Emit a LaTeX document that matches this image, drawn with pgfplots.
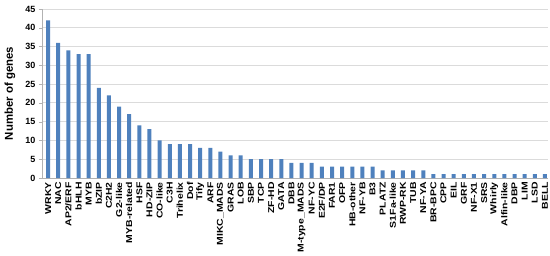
\documentclass[border=0pt]{standalone}
\usepackage{graphicx}
\usepackage{pgfplots}
\pgfplotsset{compat=1.18}
\usepackage{fontspec}
\setmainfont{Liberation Sans}
\definecolor{barblue}{HTML}{4F81BD}
\newcommand{\SL}[1]{\scalebox{1.23}[1]{#1}}
\begin{document}
\begin{tikzpicture}
\useasboundingbox (-42pt,-77pt) rectangle (508pt,178pt);
\begin{axis}[
  at={(0,0)}, anchor=south west,
  scale only axis, width=506pt, height=169pt,
  xmin=-0.6, xmax=49.3, ymin=0, ymax=45,
  ytick={0,5,...,45},
  xtick={0,...,49},
  xticklabels={\SL{WRKY},\SL{NAC},\SL{AP2/ERF},\SL{bHLH},\SL{MYB},\SL{bZIP},\SL{C2H2},\SL{G2-like},\SL{MYB-related},\SL{HSF},\SL{HD-ZIP},\SL{CO-like},\SL{C3H},\SL{Trihelix},\SL{Dof},\SL{Tify},\SL{ARF},\SL{MIKC\_MADS},\SL{GRAS},\SL{LOB},\SL{SBP},\SL{TCP},\SL{ZF-HD},\SL{GATA},\SL{DBB},\SL{M-type\_MADS},\SL{NF-YC},\SL{E2F/DP},\SL{FAR1},\SL{OFP},\SL{HB-other},\SL{NF-YB},\SL{B3},\SL{PLATZ},\SL{S1Fa-like},\SL{RWP-RK},\SL{TUB},\SL{NF-YA},\SL{BR-BPC},\SL{CPP},\SL{EIL},\SL{GRF},\SL{NF-X1},\SL{SRS},\SL{Whirly},\SL{Alfin-like},\SL{DBP},\SL{LIM},\SL{LSD},\SL{BELL}},
  x tick label style={rotate=90, anchor=east, font=\fontsize{8.5}{10}\selectfont\bfseries, inner sep=1pt},
  y tick label style={font=\fontsize{9}{10}\selectfont\bfseries},
  /pgf/number format/assume math mode=true,
  ymajorgrids, grid style={gray!28, line width=0.8pt},
  axis x line*=bottom, axis y line*=left,
  axis line style={gray!60, line width=0.6pt},
  x axis line style={-}, y axis line style={-},
  major x tick style={draw=none},
  major y tick style={gray!60},
  tick align=outside, major tick length=3pt,
  ylabel={\bfseries Number of genes},
  ylabel style={font=\fontsize{11.4}{12}\selectfont, at={(-32pt,0.5)}, anchor=center},
  clip=false,
]
\addplot[ybar, bar width=4pt, fill=barblue, draw=none] coordinates {
(0,42) (1,36) (2,34) (3,33) (4,33) (5,24) (6,22) (7,19) (8,17) (9,14)
(10,13) (11,10) (12,9) (13,9) (14,9) (15,8) (16,8) (17,7) (18,6) (19,6)
(20,5) (21,5) (22,5) (23,5) (24,4) (25,4) (26,4) (27,3) (28,3) (29,3)
(30,3) (31,3) (32,3) (33,2) (34,2) (35,2) (36,2) (37,2) (38,1) (39,1)
(40,1) (41,1) (42,1) (43,1) (44,1) (45,1) (46,1) (47,1) (48,1) (49,1)
};
\end{axis}
\end{tikzpicture}
\end{document}
